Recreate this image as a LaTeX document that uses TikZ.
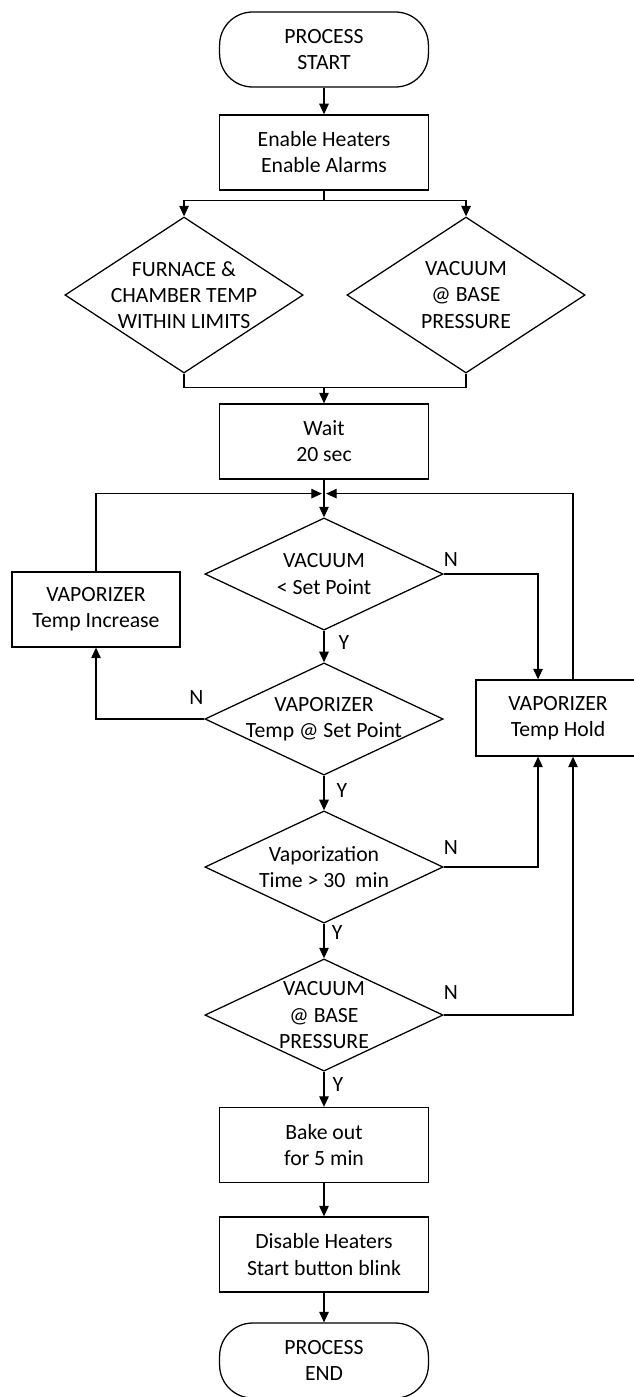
\documentclass[tikz,border=0pt]{standalone}
\usepackage{fontspec}
\setmainfont{Carlito}
\usetikzlibrary{positioning, shapes.geometric, arrows.meta, calc}

\begin{document}
\begin{tikzpicture}[
  >={Triangle[length=5pt,width=4.5pt]},
  line width=0.6pt,
  every node/.style={font=\fontsize{10.3}{12.4}\selectfont, align=center},
  procbox/.style={draw, rectangle, minimum width=3.48cm, minimum height=1.25cm},
  termbox/.style={draw, rectangle, rounded corners=0.55cm, minimum width=3.48cm, minimum height=1.25cm},
  checkbig/.style={draw, diamond, aspect=1.5, inner xsep=-0.3cm, inner ysep=0pt, minimum width=3.97cm, minimum height=2.6cm},
  check/.style={draw, diamond, aspect=2.1, inner xsep=-0.3cm, inner ysep=-0.05cm, minimum width=3.97cm, minimum height=1.87cm},
  yn/.style={inner sep=0pt}
]
\useasboundingbox (0,0) rectangle (10.55,-23.283);

% Start and setup
\node[termbox] (start) at (5.4,-0.825) {PROCESS\\START};
\node[procbox] (enable) at (5.4,-2.54) {Enable Heaters\\Enable Alarms};

% Ready checks
\node[checkbig] (furnace) at (3.067,-4.917) {FURNACE \&\\CHAMBER TEMP\\WITHIN LIMITS};
\node[checkbig] (basevac) at (7.767,-4.917) {VACUUM\\@ BASE\\PRESSURE};
\node[procbox] (wait) at (5.4,-7.358) {Wait\\20 sec};

% Vaporizer loop
\node[check] (vacsp) at (5.4,-9.567) {VACUUM\\< Set Point};
\node[check] (vaptemp) at (5.4,-11.983) {VAPORIZER\\Temp @ Set Point};
\node[check] (vaptime) at (5.4,-14.45) {Vaporization\\Time > 30~ min};
\node[check] (vacend) at (5.4,-16.917) {VACUUM\\@ BASE\\PRESSURE};
\node[procbox, minimum width=2.8cm] (increase) at (1.6,-10.158) {VAPORIZER\\Temp Increase};
\node[procbox, minimum width=2.733cm, minimum height=1.267cm] (hold) at (9.3,-11.967) {VAPORIZER\\Temp Hold};

% Shut down
\node[procbox] (bake) at (5.4,-19.083) {Bake out\\for 5 min};
\node[procbox] (disable) at (5.4,-20.908) {Disable Heaters\\Start button blink};
\node[termbox] (finish) at (5.4,-22.675) {PROCESS\\END};

% Y / N labels
\node[yn] (n1) at ($(vacsp.east)+(0.12,0.25)$) {N};
\node[yn] (n2) at ($(vaptemp.west)+(-0.13,0.35)$) {N};
\node[yn] (n3) at ($(vaptime.east)+(0.12,0.32)$) {N};
\node[yn] (n4) at ($(vacend.east)+(0.12,0.37)$) {N};
\node[yn] (y1) at ($(vacsp.south)+(0.33,-0.2)$) {Y};
\node[yn] (y2) at ($(vaptemp.south)+(0.3,-0.25)$) {Y};
\node[yn] (y3) at ($(vaptime.south)+(0.22,-0.15)$) {Y};
\node[yn] (y4) at ($(vacend.south)+(0.23,-0.22)$) {Y};

% Connectors
\draw[->] (start) -- (enable);
\coordinate (split) at ($(enable.south)+(0,-0.17)$);
\draw (enable.south) -- (split);
\draw[->] (split) -| (furnace.north);
\draw[->] (split) -| (basevac.north);
\coordinate (join) at ($(wait.north)+(0,0.266)$);
\draw (furnace.south) |- (join) -| (basevac.south);
\draw[->] (join) -- (wait);
\coordinate (merge) at ($(wait.south)+(0,-0.233)$);
\draw (wait) -- (merge);
\draw[->] (merge) -- (vacsp);
\draw[->, shorten >=1pt] (increase) |- (merge);
\draw[->, shorten >=1pt] ([xshift=0.25cm]hold.north) |- (merge);
\draw[->] (vacsp.east) -| ([xshift=-0.333cm]hold.north);
\draw[->] (vacsp) -- (vaptemp);
\draw[->] (vaptemp.west) -| (increase.south);
\draw[->] (vaptemp) -- (vaptime);
\draw[->] (vaptime.east) -| ([xshift=-0.333cm]hold.south);
\draw[->] (vaptime) -- (vacend);
\draw[->] (vacend.east) -| ([xshift=0.25cm]hold.south);
\draw[->] (vacend) -- (bake);
\draw[->] (bake) -- (disable);
\draw[->] (disable) -- (finish);

\end{tikzpicture}
\end{document}
